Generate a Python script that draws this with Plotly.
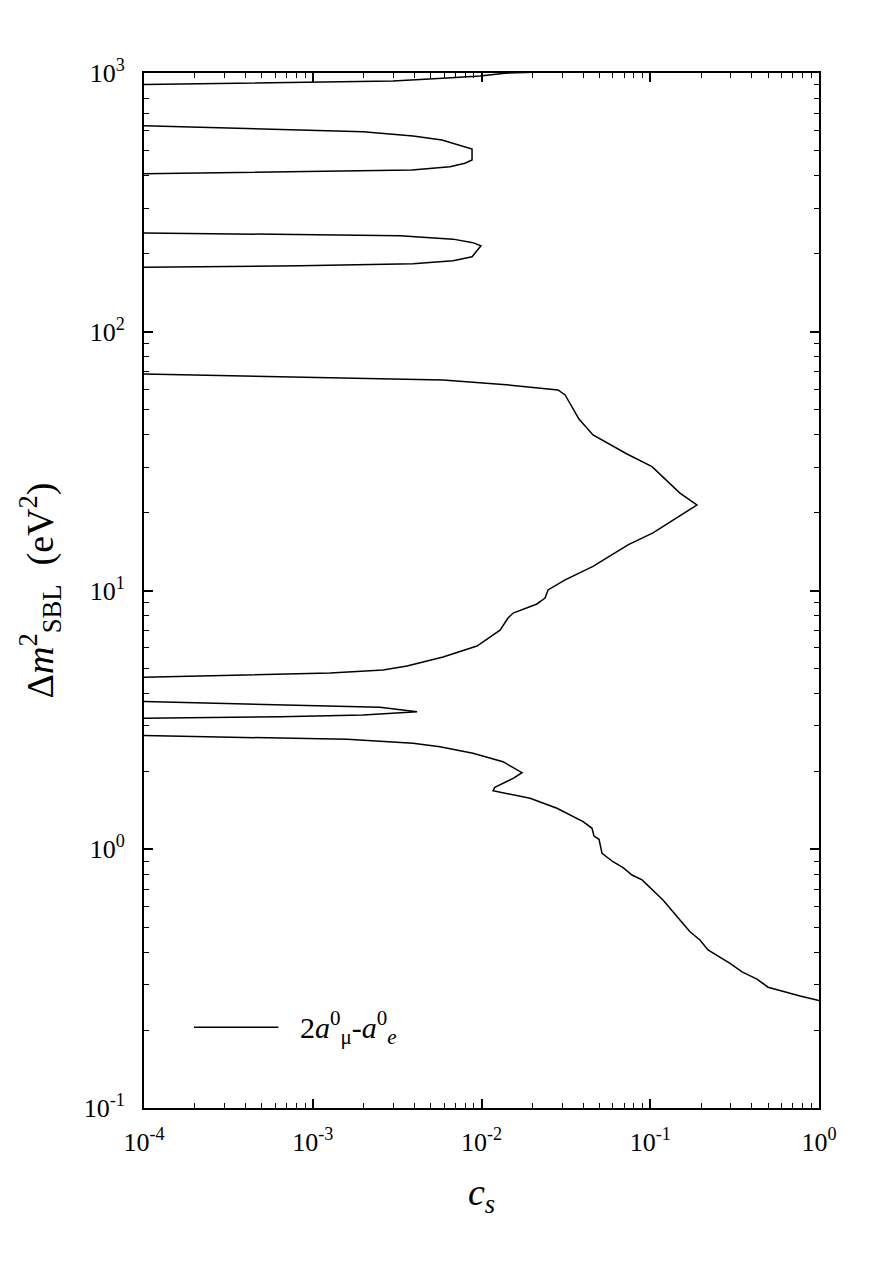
import plotly.graph_objects as go

# contour segments (c_s, dm2 in eV^2)
seg1_x = [1e-4, 4.25e-4, 2.99e-3, 6.25e-3, 9.8e-3, 1.38e-2, 2.22e-2]
seg1_y = [903, 915, 931, 956, 974, 998, 1009]

seg2_x = [1e-4, 7.33e-4, 1.99e-3, 3.93e-3, 5.83e-3, 8.79e-3, 8.79e-3, 7.98e-3, 6.5e-3, 3.87e-3, 7.33e-4, 1e-4]
seg2_y = [626, 602, 593, 571, 551, 508, 461, 448, 434, 422, 415, 408]

seg3_x = [1e-4, 3.29e-3, 6.78e-3, 8.9e-3, 9.93e-3, 8.79e-3, 6.78e-3, 3.93e-3, 8.4e-4, 1e-4]
seg3_y = [241, 235, 228, 221, 215, 195, 188, 183, 180, 177.5]

seg4_x = [1e-4, 2.5e-3, 5.92e-3, 0.0134, 0.0284, 0.0313, 0.0378, 0.0458, 0.0728, 0.1024, 0.150, 0.189,
          0.150, 0.1038, 0.0738, 0.0458, 0.0313, 0.0248, 0.0238, 0.0213, 0.0154, 0.01436, 0.01288,
          9.4e-3, 5.92e-3, 3.62e-3, 2.61e-3, 1.27e-3, 1e-4]
seg4_y = [68.7, 65.7, 65.1, 62.6, 59.6, 57.0, 46.0, 39.9, 33.7, 30.1, 23.8, 21.4,
          19.5, 16.7, 15.0, 12.4, 11.0, 10.05, 9.35, 8.87, 8.18, 7.83, 7.03,
          6.10, 5.53, 5.11, 4.93, 4.80, 4.62]

seg5_x = [1e-4, 6.4e-4, 2.5e-3, 4.15e-3, 1.99e-3, 6.4e-4, 1e-4]
seg5_y = [3.72, 3.61, 3.54, 3.40, 3.30, 3.25, 3.21]

seg6_x = [1e-4, 1.6e-3, 3.93e-3, 5.67e-3, 8.9e-3, 0.0134, 0.01738, 0.0154, 0.0120, 0.0117, 0.0194,
          0.028, 0.040, 0.0452, 0.0464, 0.0497, 0.0518, 0.0601, 0.069, 0.078, 0.0894, 0.119,
          0.150, 0.172, 0.197, 0.22, 0.297, 0.350, 0.429, 0.499, 0.772, 1.0]
seg6_y = [2.75, 2.66, 2.57, 2.49, 2.35, 2.18, 1.976, 1.88, 1.735, 1.684, 1.574,
          1.44, 1.278, 1.205, 1.125, 1.093, 0.9645, 0.895, 0.849, 0.795, 0.761, 0.637,
          0.533, 0.480, 0.446, 0.408, 0.362, 0.336, 0.315, 0.293, 0.271, 0.26]

x_ticks = [1e-4, 1e-3, 1e-2, 1e-1, 1]
x_labels = ["10<sup>-4</sup>", "10<sup>-3</sup>", "10<sup>-2</sup>", "10<sup>-1</sup>", "10<sup>0</sup>"]
y_ticks = [0.1, 1, 10, 100, 1000]
y_labels = ["10<sup>-1</sup>", "10<sup>0</sup>", "10<sup>1</sup>", "10<sup>2</sup>", "10<sup>3</sup>"]

legend_text = "2<i>a</i><sup>0</sup><sub>μ</sub>-<i>a</i><sup>0</sup><sub><i>e</i></sub>"

# minor ticks 2..9 in every decade
x_minor = [m * 10.0 ** e for e in range(-4, 0) for m in range(2, 10)]
y_minor = [m * 10.0 ** e for e in range(-1, 3) for m in range(2, 10)]

serif = "Liberation Serif, DejaVu Serif, serif"
fig = go.Figure()
segs = [(seg1_x, seg1_y), (seg2_x, seg2_y), (seg3_x, seg3_y),
        (seg4_x, seg4_y), (seg5_x, seg5_y), (seg6_x, seg6_y)]
for i, (sx, sy) in enumerate(segs):
    fig.add_trace(go.Scatter(x=sx, y=sy, mode="lines",
                             line=dict(color="black", width=1.5),
                             name=legend_text, showlegend=False))

axis_common = dict(type="log", showgrid=False, zeroline=False, showline=True,
                   linecolor="black", linewidth=2, mirror="ticks", automargin=False,
                   ticks="inside", ticklen=9, tickwidth=1.5, tickcolor="black",
                   tickfont=dict(family=serif, size=26, color="black"))

fig.update_xaxes(range=[-4, 0], tickvals=x_ticks, ticktext=x_labels, ticklabelstandoff=10,
                 minor=dict(tickvals=x_minor, ticks="inside", ticklen=5, tickwidth=1.2,
                            tickcolor="black", showgrid=False),
                 title=dict(text="<i>c<sub>s</sub></i>", font=dict(family=serif, size=38, color="black"), standoff=22),
                 **axis_common)
fig.update_yaxes(range=[-1, 3], tickvals=y_ticks, ticktext=y_labels, ticklabelstandoff=12,
                 minor=dict(tickvals=y_minor, ticks="inside", ticklen=5, tickwidth=1.2,
                            tickcolor="black", showgrid=False),
                 title=dict(text="Δ<i>m</i><sup>2</sup><sub>SBL</sub>  (eV<sup>2</sup>)",
                            font=dict(family=serif, size=38, color="black"), standoff=18),
                 **axis_common)

# legend drawn by hand so the sample line is as long as in the original
fig.add_shape(type="line", xref="paper", yref="paper", x0=0.074, x1=0.199, y0=0.078, y1=0.078,
              line=dict(color="black", width=1.5))
fig.add_annotation(xref="paper", yref="paper", x=0.228, y=0.078, xanchor="left", yanchor="middle",
                   text=legend_text, showarrow=False, font=dict(family=serif, size=30, color="black"))

# page body has an 8 px margin, so the figure sits 8 px down and right
fig.update_layout(width=887, height=1263,
                  margin=dict(l=136, r=76, t=65, b=163),
                  plot_bgcolor="white", paper_bgcolor="white",
                  font=dict(family=serif, color="black"), showlegend=False)

fig.write_html("out.html")
